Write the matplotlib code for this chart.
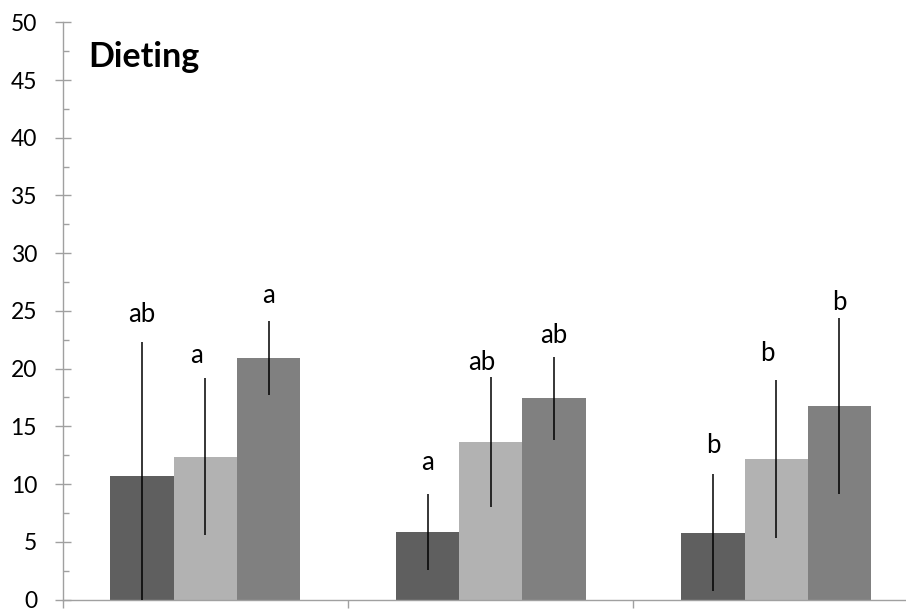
import matplotlib
matplotlib.use("Agg")
import matplotlib.pyplot as plt
import numpy as np

plt.rcParams['font.family'] = ['Lato', 'DejaVu Sans']

categories = ["Group 1", "Group 2", "Group 3"]
series_names = ["Series 1", "Series 2", "Series 3"]
values_s1 = [10.7, 5.85, 5.8]
values_s2 = [12.35, 13.65, 12.2]
values_s3 = [20.9, 17.45, 16.75]
err_s1 = [11.6, 3.3, 5.1]
err_s2 = [6.8, 5.6, 6.85]
err_s3 = [3.2, 3.6, 7.6]
letters_s1 = ["ab", "a", "b"]
letters_s2 = ["a", "ab", "b"]
letters_s3 = ["a", "ab", "b"]
letter_y_s1 = [24.05, 11.2, 12.65]
letter_y_s2 = [20.5, 19.9, 20.65]
letter_y_s3 = [25.7, 22.2, 25.1]
title_text = "Dieting"
y_ticks = [0, 5, 10, 15, 20, 25, 30, 35, 40, 45, 50]

colors = ["#5f5f5f", "#b2b2b2", "#808080"]
fig = plt.figure(figsize=(9.06, 6.10), dpi=100)
ax = fig.add_axes([0.0692, 0.0172, 0.945, 0.9462])

x = np.arange(len(categories))
w = 0.2217
offsets = [-w, 0, w]
vals = [values_s1, values_s2, values_s3]
errs = [err_s1, err_s2, err_s3]
letters = [letters_s1, letters_s2, letters_s3]
letter_ys = [letter_y_s1, letter_y_s2, letter_y_s3]
letter_dx = [0.0, -0.03, 0.0]

for i in range(3):
    v = np.array(vals[i])
    e = np.array(errs[i])
    lower = np.minimum(e, v)
    ax.bar(x + offsets[i], v, width=w, color=colors[i], label=series_names[i], zorder=2)
    ax.errorbar(x + offsets[i], v, yerr=[lower, e], fmt='none', ecolor='black',
                elinewidth=1.1, capsize=0, zorder=3)
    for j in range(3):
        ax.text(x[j] + offsets[i] + letter_dx[i], letter_ys[i][j], letters[i][j],
                ha='center', va='baseline', fontsize=18.5, color='black')

ax.text(-0.409, 46.1, title_text, fontsize=24.5, fontweight='bold', ha='left', va='baseline')

ax.set_xlim(-0.5, 2.5)
ax.set_ylim(0, 50)
ax.set_yticks(y_ticks)
ax.set_yticklabels([str(t) for t in y_ticks])
ax.set_yticks(np.arange(2.5, 50, 5), minor=True)
ax.set_xticks([-0.5, 0.5, 1.5, 2.5])
ax.set_xticklabels([])

spine_col = "#a0a0a0"
for s in ['top', 'right']:
    ax.spines[s].set_visible(False)
for s in ['left', 'bottom']:
    ax.spines[s].set_color(spine_col)
    ax.spines[s].set_linewidth(1.0)

ax.tick_params(axis='y', which='major', direction='inout', length=11, width=1.0,
               color=spine_col, labelsize=16.5, pad=13)
ax.tick_params(axis='y', which='minor', direction='in', length=4.5, width=1.0, color=spine_col)
ax.tick_params(axis='x', which='major', direction='out', length=6, width=1.0, color=spine_col)
ax.tick_params(axis='x', which='minor', bottom=False)
ax.set_facecolor('white')
fig.patch.set_facecolor('white')

fig.savefig("out.png", dpi=100)
